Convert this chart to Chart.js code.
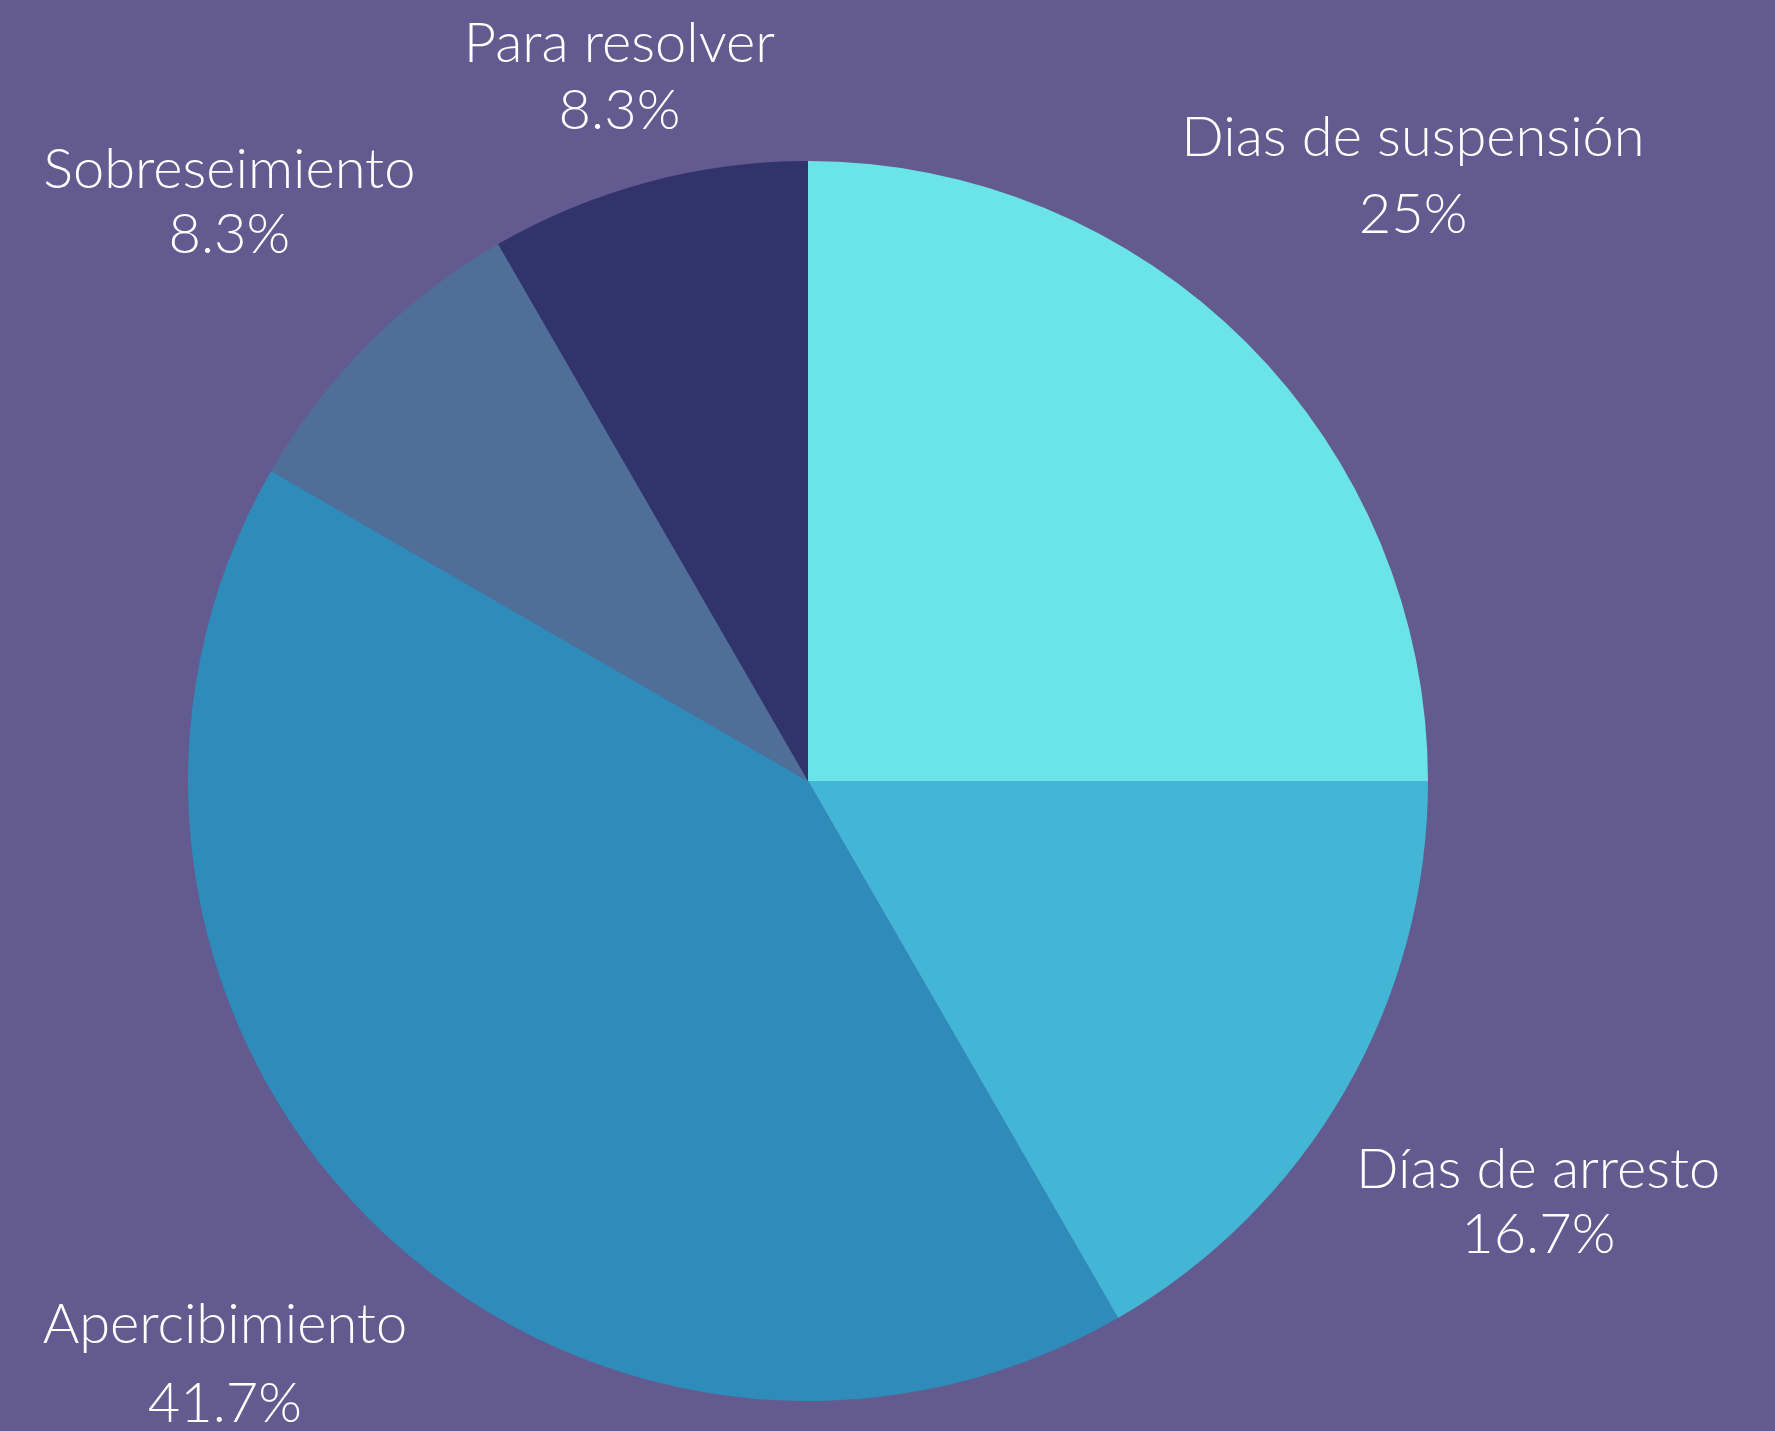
<!DOCTYPE html>
<html>
<head>
<meta charset="utf-8">
<script src="https://cdn.jsdelivr.net/npm/chart.js@4/dist/chart.umd.min.js"></script>
<style>
  html, body { margin: 0; padding: 0; background: #635a8f; }
  canvas { display: block; }
</style>
</head>
<body>
<canvas id="pie" width="1775" height="1431"></canvas>
<script>
// data
const categories = ['Dias de suspensión', 'Días de arresto', 'Apercibimiento', 'Sobreseimiento', 'Para resolver'];
const values = [3, 2, 5, 1, 1];
const colors = ['#6be4e8', '#43b6d6', '#2e8bba', '#4f6e98', '#30346b'];

// label placement: distance from centre (in radii) and gap between the two lines
const labelDistance = [1.38, 1.36, 1.33, 1.32, 1.175];
const lineGap = [77, 65, 79, 65, 67];

const total = values.reduce((a, b) => a + b, 0);
const pct = v => {
  const p = (v / total * 100).toFixed(1);
  return (p.endsWith('.0') ? p.slice(0, -2) : p) + '%';
};

// Draw labels outside the slices
const outerLabels = {
  id: 'outerLabels',
  afterDraw(chart) {
    const ctx = chart.ctx;
    const arcs = chart.getDatasetMeta(0).data;
    ctx.save();
    ctx.fillStyle = '#ffffff';
    ctx.font = '300 56px Lato, sans-serif';
    ctx.textAlign = 'center';
    ctx.textBaseline = 'middle';
    arcs.forEach((arc, i) => {
      const mid = (arc.startAngle + arc.endAngle) / 2;
      const r = arc.outerRadius * labelDistance[i];
      const x = arc.x + Math.cos(mid) * r;
      const y = arc.y + Math.sin(mid) * r;
      ctx.fillText(categories[i], x, y - lineGap[i] / 2);
      ctx.fillText(pct(values[i]), x, y + lineGap[i] / 2);
    });
    ctx.restore();
  }
};

new Chart(document.getElementById('pie').getContext('2d'), {
  type: 'pie',
  data: {
    labels: categories,
    datasets: [{
      data: values,
      backgroundColor: colors,
      borderWidth: 0,
    }]
  },
  options: {
    responsive: false,
    animation: false,
    layout: { padding: { left: 188, right: 347, top: 161, bottom: 30 } },
    plugins: {
      legend: { display: false },
      tooltip: { enabled: false },
    }
  },
  plugins: [outerLabels]
});
</script>
</body>
</html>
